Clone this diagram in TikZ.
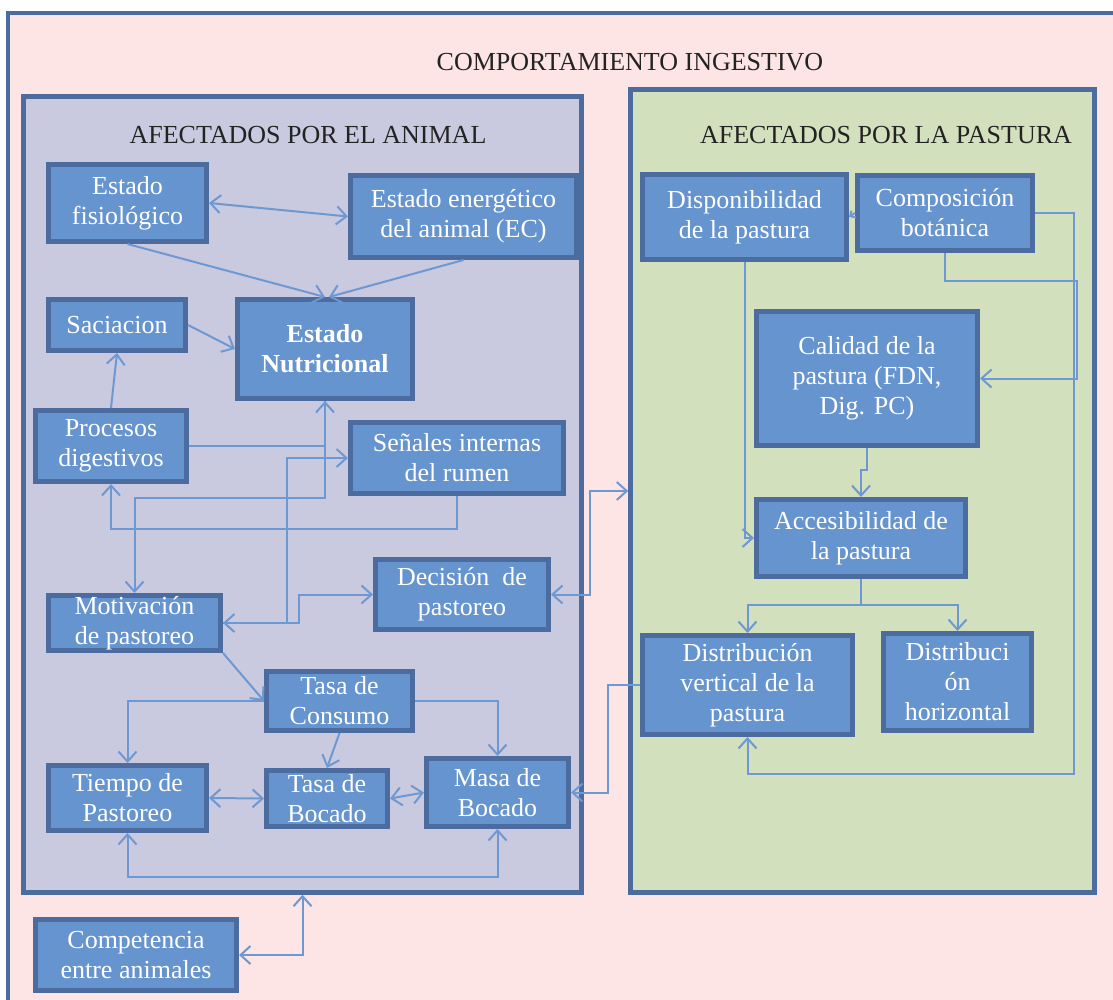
\documentclass[tikz,border=0pt]{standalone}
\usepackage{fontspec}
\setmainfont{Liberation Serif}
\usetikzlibrary{arrows.meta}
\definecolor{bgpink}{RGB}{253,228,229}
\definecolor{panelL}{RGB}{201,201,223}
\definecolor{panelR}{RGB}{211,224,189}
\definecolor{boxfill}{RGB}{102,148,206}
\definecolor{boxline}{RGB}{76,108,160}
\definecolor{conn}{RGB}{110,152,210}
\definecolor{titletext}{RGB}{35,35,35}
\begin{document}
\begin{tikzpicture}[x=1pt,y=-1pt,
  box/.style={draw=boxline, fill=boxfill, line width=5pt, text=white, align=center, inner sep=0pt, font=\fontsize{26}{30}\selectfont},
  panel/.style={draw=boxline, line width=4.5pt, inner sep=0pt},
  link/.style={draw=conn, line width=2pt, >={Straight Barb[length=10pt,width=18pt]}},
  ttl/.style={text=titletext, font=\fontsize{26}{30}\selectfont, inner sep=0pt}]
\useasboundingbox (0,0) rectangle (1113,1000);
\clip (0,0) rectangle (1113,1000);
\fill[white] (0,0) rectangle (1113,1000);
\draw[draw=boxline, line width=4pt, fill=bgpink] (8,13) rectangle (1135,1020);
\node[ttl] (title) at (630,62) {COMPORTAMIENTO INGESTIVO};
% panels
\node[panel, fill=panelL, minimum width=558pt, minimum height=796pt] (lp) at (302.5,494.5) {};
\node[panel, fill=panelR, minimum width=464pt, minimum height=803pt] (rp) at (862.5,491) {};
\node[ttl] (tl) at (308,135) {AFECTADOS POR EL ANIMAL};
\node[ttl] (tr) at (886,135) {AFECTADOS POR LA PASTURA};
% left boxes
\node[box, minimum width=158pt, minimum height=77pt] (fis) at (127.5,203) {Estado\\fisiológico};
\node[box, minimum width=226pt, minimum height=82pt] (ene) at (463.5,216.5) {Estado energético\\del animal (EC)};
\node[box, minimum width=137pt, minimum height=51pt] (sac) at (117,325) {Saciacion};
\node[box, minimum width=175pt, minimum height=99pt, font=\fontsize{26}{30}\selectfont\bfseries] (nut) at (325,349) {Estado\\Nutricional};
\node[box, minimum width=151pt, minimum height=71pt] (pro) at (111,446) {Procesos\\digestivos};
\node[box, minimum width=213pt, minimum height=71pt] (sen) at (457,458) {Señales internas\\del rumen};
\node[box, minimum width=172pt, minimum height=55pt] (mot) at (134.5,623) {Motivación\\de pastoreo};
\node[box, minimum width=173pt, minimum height=70pt] (dec) at (462,594.5) {Decisión~ de\\pastoreo};
\node[box, minimum width=146pt, minimum height=59pt] (tco) at (339.5,701) {Tasa de\\Consumo};
\node[box, minimum width=158pt, minimum height=65pt] (tie) at (127.5,798) {Tiempo de\\Pastoreo};
\node[box, minimum width=121pt, minimum height=56pt] (tbo) at (327,798.5) {Tasa de\\Bocado};
\node[box, minimum width=142pt, minimum height=68pt] (mas) at (497.5,792.5) {Masa de\\Bocado};
\node[box, minimum width=201pt, minimum height=71pt] (com) at (136,955) {Competencia\\entre animales};
% right boxes
\node[box, minimum width=204pt, minimum height=85pt] (dis) at (744.5,217) {Disponibilidad\\de la pastura};
\node[box, minimum width=175pt, minimum height=75pt] (cmp) at (945,213) {Composición\\botánica};
\node[box, minimum width=221pt, minimum height=134pt] (cal) at (867,378.5) {Calidad de la\\pastura (FDN,\\Dig. PC)};
\node[box, minimum width=209pt, minimum height=77pt] (acc) at (861,538) {Accesibilidad de\\la pastura};
\node[box, minimum width=210pt, minimum height=99pt] (dve) at (747.5,685) {Distribución\\vertical de la\\pastura};
\node[box, minimum width=148pt, minimum height=97pt] (dho) at (957.5,682) {Distribuci\\ón\\horizontal};
% connectors left
\draw[link,<->] (fis.east) -- (ene.west);
\draw[link,->] (fis.south) -- (nut.north);
\draw[link,->] (ene.south) -- ([xshift=4pt]nut.north);
\draw[link,->] (sac.east) -- (nut.west);
\draw[link,->] (pro.north) -- (sac.south);
\draw[link,->] (pro.east) -| (nut.south);
\draw[link,->] (nut.south) -- ++(0,97) -| (mot.north);
\draw[link,->] (sen.south) -- ++(0,33) -| (pro.south);
\draw[link,->] (mot.east) -- ++(64,0) |- (sen.west);
\draw[link,<->] (mot.east) -- ++(76,0) |- (dec.west);
\draw[link,<->] (dec.east) -- ++(39,0) |- (rp.west);
\draw[link,->] (mot.south east) -- (tco.west);
\draw[link,->] (tco.west) -| (tie.north);
\draw[link,->] (tco.east) -| (mas.north);
\draw[link,->] (tco.south) -- (tbo.north);
\draw[link,<->] (tie.east) -- (tbo.west);
\draw[link,<->] (tbo.east) -- (mas.west);
\draw[link,<->] (tie.south) -- ++(0,44) -| (mas.south);
\draw[link,<->] (com.east) -| (lp.south);
\draw[link,->] (dve.west) -- ++(-32,0) |- (mas.east);
% connectors right
\draw[link,->,>={Straight Barb[length=4pt,width=8pt]}] (cmp.west) -- (dis.east);
\draw[link,->] (cmp.east) -- ++(39,0) -- ++(0,561) -| (dve.south);
\draw[link,->] (cmp.south) -- ++(0,28) -- ++(132,0) |- (cal.east);
\draw[link,->] (dis.south) |- (acc.west);
\draw[link,->] (cal.south) -- ++(0,22) -| (acc.north);
\draw[link,->] (acc.south) -- ++(0,26) -| (dve.north);
\draw[link,->] (acc.south) -- ++(0,26) -| (dho.north);
\end{tikzpicture}
\end{document}
